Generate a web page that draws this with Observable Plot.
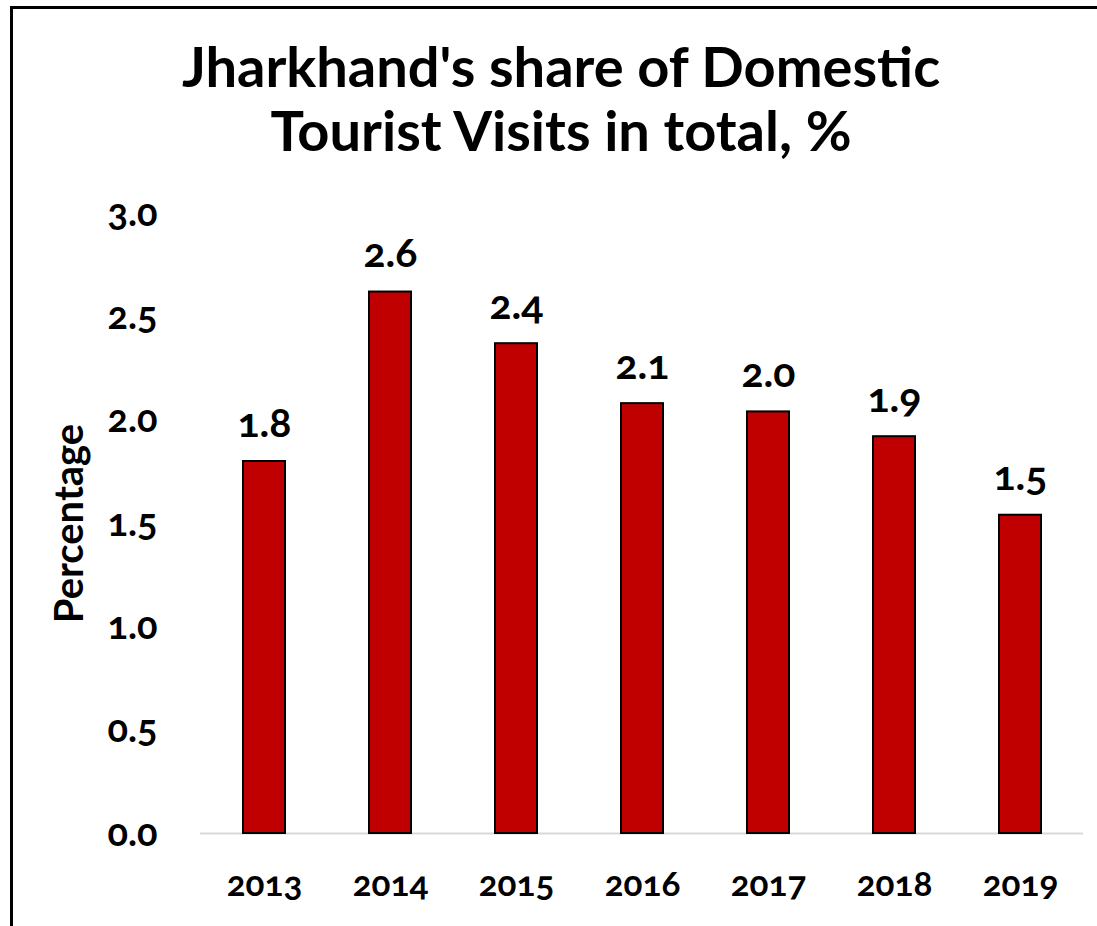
<!DOCTYPE html>
<html><head><meta charset="utf-8">
<script src="https://cdn.jsdelivr.net/npm/d3@7"></script>
<script src="https://cdn.jsdelivr.net/npm/@observablehq/plot@0.6"></script>
<style>
body{margin:0;background:#fff;font-family:Lato,"Open Sans",sans-serif;}
#wrap{position:relative;width:1097px;height:926px;overflow:hidden;background:#fff;}
#frame{position:absolute;left:10px;top:6px;width:1200px;height:1000px;border-left:3px solid #000;border-top:3px solid #000;box-sizing:border-box;}
#title{position:absolute;left:11px;width:1100px;top:34px;text-align:center;font-weight:700;font-size:56px;line-height:64px;color:#000;}
#chart{position:absolute;left:0;top:190px;}
#chart svg text{font-variant-numeric:oldstyle-nums;}
</style></head><body>
<div id="wrap"><div id="frame"></div><div id="title">Jharkhand's share of Domestic<br>Tourist Visits in total, %</div><div id="chart"></div></div>
<script>
const years = ["2013","2014","2015","2016","2017","2018","2019"];
const shares = [1.80, 2.62, 2.37, 2.08, 2.04, 1.92, 1.54];
const yTicks = [0, 0.5, 1.0, 1.5, 2.0, 2.5, 3.0];
const yLabel = "Percentage";
const data = years.map((y, i) => ({year: y, share: shares[i]}));

const chart = Plot.plot({
  width: 1097, height: 736,
  marginTop: 23, marginBottom: 93, marginLeft: 200, marginRight: 14,
  style: {fontFamily: "Lato, 'Open Sans', sans-serif", fontWeight: 700, color: "#000", background: "transparent", overflow: "visible"},
  x: {domain: years, paddingInner: 0.67, paddingOuter: 0.335, label: null},
  y: {domain: [0, 3], label: null},
  marks: [
    Plot.ruleY([0], {stroke: "#d9d9d9", strokeWidth: 2}),
    Plot.barY(data, {x: "year", y: "share", fill: "#c00000", stroke: "#000", strokeWidth: 2}),
    Plot.text(data, {x: "year", y: "share", text: d => d.share.toFixed(1), dy: -38, fontSize: 41, fontWeight: 700, fill: "#000"}),
    Plot.axisY({ticks: yTicks, tickFormat: d => d.toFixed(1), tickSize: 0, tickPadding: 43, fontSize: 38, fontWeight: 700, label: null}),
    Plot.axisX({tickSize: 0, tickPadding: 38, fontSize: 35, fontWeight: 700, label: null}),
    Plot.text([yLabel], {frameAnchor: "left", text: d => d, rotate: -90, textAnchor: "middle", dx: -130, fontSize: 40, fontWeight: 700, fill: "#000"})
  ]
});
document.getElementById("chart").appendChild(chart);
</script>
</body></html>
